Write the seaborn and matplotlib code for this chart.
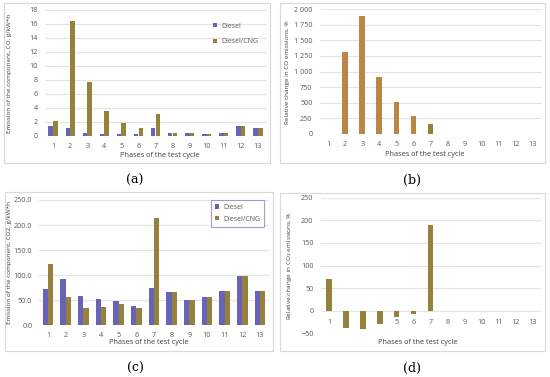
import matplotlib
matplotlib.use("Agg")
import matplotlib.pyplot as plt
import matplotlib.patches as mpatches
import seaborn as sns
import pandas as pd
import numpy as np

sns.set_theme(style="white")
plt.rcParams['font.family'] = ['Open Sans', 'DejaVu Sans']

phases = [str(i) for i in range(1, 14)]
series = ["Diesel", "Diesel/CNG"]

co_diesel = [1.4, 1.2, 0.4, 0.35, 0.3, 0.3, 1.2, 0.45, 0.4, 0.25, 0.5, 1.5, 1.2]
co_cng = [2.2, 16.5, 7.7, 3.6, 1.8, 1.2, 3.1, 0.45, 0.4, 0.25, 0.5, 1.5, 1.1]
co_rel = [0, 1310, 1890, 910, 505, 280, 155, 0, 0, 0, 0, 0, 0]

co2_diesel = [72, 92, 59, 52, 49, 38, 74, 67, 51, 56, 68, 98, 69]
co2_cng = [123, 57, 35, 36, 42, 34, 215, 67, 51, 56, 68, 98, 69]
co2_rel = [70, -38, -40, -30, -14, -8, 190, 0, 0, 0, 0, 0, 0]

co_ticks = list(range(0, 19, 2))
co_rel_ticks = list(range(0, 2001, 250))
co_rel_ticklabels = ["0", "250", "500", "750", "1 000", "1 250", "1 500", "1 750", "2 000"]
co2_ticks = list(range(0, 251, 50))
co2_ticklabels = [f"{v:.1f}" for v in co2_ticks]
co2_rel_ticks = list(range(-50, 251, 50))

C_DIESEL = "#5A55C6"
C_CNG = "#A4892C"
C_ORANGE = "#CF8732"
GRID = "#E3E3E3"
TXT = "#595959"

W, H = 550, 377
fig = plt.figure(figsize=(5.5, 3.77), dpi=100)


def ax_px(x0, y0, x1, y1):
    return fig.add_axes([x0 / W, 1 - y1 / H, (x1 - x0) / W, (y1 - y0) / H])


def frame(x0, y0, x1, y1):
    fig.patches.append(mpatches.Rectangle((x0 / W, 1 - y1 / H), (x1 - x0) / W, (y1 - y0) / H,
                                          transform=fig.transFigure, fill=False,
                                          edgecolor="#D9D9D9", linewidth=0.8))


def ftext(x, y, s, **kw):
    fig.text(x / W, 1 - y / H, s, **kw)


def style(ax, ylim, ticks, labels=None):
    ax.set_ylim(*ylim)
    ax.set_yticks(ticks)
    if labels is not None:
        ax.set_yticklabels(labels)
    ax.grid(axis="y", color=GRID, linewidth=0.8)
    ax.set_axisbelow(True)
    for s in ax.spines.values():
        s.set_visible(False)
    ax.tick_params(axis="both", length=0, labelsize=5.2, colors=TXT, pad=5)
    ax.set_xlabel("")
    ax.set_ylabel("")


for f in [(4, 3, 270, 163), (280, 3, 545, 163), (5, 192, 273, 351), (280, 193, 545, 351)]:
    frame(*f)

YL = dict(rotation=90, ha="center", va="center", fontsize=4.6, color="#404040")
XL = dict(ha="center", va="center", fontsize=5.3, color="#404040")
CAP = dict(ha="center", va="center", fontsize=9, family="DejaVu Serif", color="black")
BAR = dict(linewidth=0, edgecolor="none")

# (a)
df_a = pd.DataFrame({"phase": phases * 2, "val": co_diesel + co_cng,
                     "series": [series[0]] * 13 + [series[1]] * 13})
ax = ax_px(44.5, 10, 266.5, 136)
sns.barplot(data=df_a, x="phase", y="val", hue="series", palette=[C_DIESEL, C_CNG],
            width=0.55, ax=ax, legend=True, gap=0.05, **BAR)
style(ax, (0, 18), co_ticks)
ax.set_xlim(-0.5, 12.5)
ax.legend(frameon=False, fontsize=5.0, loc="upper right", bbox_to_anchor=(0.99, 0.95),
          handlelength=0.6, handleheight=0.6, labelcolor=TXT, labelspacing=1.25, handletextpad=0.6)
ftext(10, 73, "Emission of the component, CO, g/kW*h", **YL)
ftext(160, 156, "Phases of the test cycle", **XL)
ftext(135, 180, "(a)", **CAP)

# (b)
df_b = pd.DataFrame({"phase": phases, "val": co_rel})
ax = ax_px(319.5, 9.3, 541.5, 133.7)
cols_b = [C_ORANGE] * 6 + [C_CNG] + [C_ORANGE] * 6
sns.barplot(data=df_b, x="phase", y="val", hue="phase", palette=cols_b, width=0.33, ax=ax,
            legend=False, **BAR)
style(ax, (0, 2000), co_rel_ticks, co_rel_ticklabels)
ax.set_xlim(-0.5, 12.5)
ftext(288, 72, "Relative change in CO emissions, %", **YL)
ftext(425, 154, "Phases of the test cycle", **XL)
ftext(412, 180, "(b)", **CAP)

# (c)
df_c = pd.DataFrame({"phase": phases * 2, "val": co2_diesel + co2_cng,
                     "series": [series[0]] * 13 + [series[1]] * 13})
ax = ax_px(39.2, 200, 268.8, 325.3)
sns.barplot(data=df_c, x="phase", y="val", hue="series", palette=[C_DIESEL, C_CNG],
            width=0.62, ax=ax, legend=True, gap=0.05, **BAR)
style(ax, (0, 250), co2_ticks, co2_ticklabels)
ax.set_xlim(-0.5, 12.5)
leg = ax.legend(frameon=True, fontsize=5.0, loc="upper right", bbox_to_anchor=(0.995, 1.03),
                handlelength=0.6, handleheight=0.6, labelcolor=TXT, labelspacing=0.7,
                handletextpad=0.6, fancybox=False, borderpad=0.6)
leg.get_frame().set_edgecolor("#8A86C8")
leg.get_frame().set_linewidth(0.8)
ftext(10, 263, "Emission of the component, CO2, g/kW*h", **YL)
ftext(149, 343, "Phases of the test cycle", **XL)
ftext(135, 368, "(c)", **CAP)

# (d)
df_d = pd.DataFrame({"phase": phases, "val": co2_rel})
ax = ax_px(320.5, 197.7, 540.5, 333.3)
sns.barplot(data=df_d, x="phase", y="val", color=C_CNG, width=0.33, ax=ax, **BAR)
style(ax, (-50, 250), co2_rel_ticks)
ax.set_xlim(-0.5, 12.5)
ax.spines["bottom"].set_position(("data", 0))
ax.tick_params(axis="x", pad=6)
ftext(290, 266, "Relative change in CO$_2$ emissions, %", **YL)
ftext(418, 343, "Phases of the test cycle", **XL)
ftext(412, 368, "(d)", **CAP)

fig.savefig("out.png", dpi=100, facecolor="white")
